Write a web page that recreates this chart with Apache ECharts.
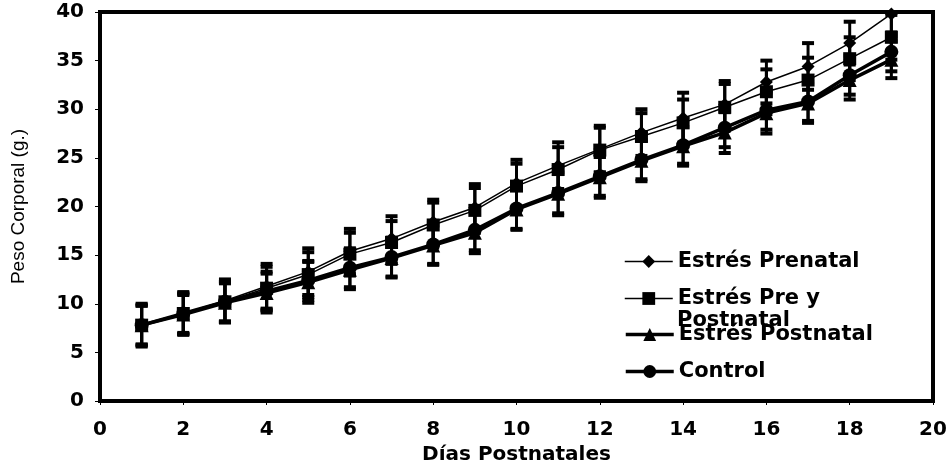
<!DOCTYPE html>
<html>
<head>
<meta charset="utf-8">
<script src="https://cdn.jsdelivr.net/npm/echarts@6/dist/echarts.min.js"></script>
<style>
html, body { margin: 0; padding: 0; background: #fff; }
#main { width: 951px; height: 464px; }
</style>
</head>
<body>
<div id="main"></div>
<script>
// dias postnatales
var dias = [1, 2, 3, 4, 5, 6, 7, 8, 9, 10, 11, 12, 13, 14, 15, 16, 17, 18, 19];

// pesos medios (g.)
var prenatal = [7.8, 9.0, 10.3, 11.8, 13.3, 15.4, 16.7, 18.4, 19.9, 22.4, 24.2, 25.9, 27.6, 29.1, 30.5, 32.8, 34.4, 36.8, 39.8];
var prePost  = [7.8, 9.0, 10.2, 11.6, 13.0, 15.1, 16.3, 18.1, 19.6, 22.1, 23.8, 25.8, 27.2, 28.6, 30.2, 31.8, 33.0, 35.2, 37.4];
var postnatal = [7.8, 8.9, 10.1, 11.1, 12.2, 13.5, 14.7, 16.0, 17.3, 19.7, 21.3, 23.0, 24.7, 26.2, 27.6, 29.6, 30.6, 33.0, 35.1];
var control  = [7.8, 9.0, 10.2, 11.3, 12.4, 13.7, 14.8, 16.1, 17.6, 19.8, 21.4, 23.1, 24.8, 26.3, 28.1, 29.9, 30.8, 33.5, 35.9];

// desviaciones
var sdPrenatal = [2.2, 2.2, 2.2, 2.3, 2.4, 2.3, 2.3, 2.3, 2.4, 2.4, 2.4, 2.4, 2.4, 2.6, 2.4, 2.2, 2.4, 2.2, 2.3];
var sdPrePost  = [2.1, 2.1, 2.1, 2.2, 2.3, 2.2, 2.2, 2.3, 2.3, 2.3, 2.3, 2.3, 2.4, 2.4, 2.4, 2.3, 2.3, 2.2, 2.3];
var sdPostnatal = [2.0, 2.0, 2.0, 2.0, 2.1, 2.0, 2.0, 2.0, 2.1, 2.1, 2.2, 2.1, 2.1, 2.0, 2.1, 2.1, 2.0, 2.0, 1.9];
var sdControl  = [2.0, 2.0, 2.0, 2.0, 2.0, 2.0, 2.0, 2.0, 2.1, 2.1, 2.1, 2.0, 2.0, 1.9, 2.0, 2.0, 2.0, 2.0, 2.0];

var yTicks = [0, 5, 10, 15, 20, 25, 30, 35, 40];

var nombres = ['Estrés Prenatal', 'Estrés Pre y Postnatal', 'Estrés Postnatal', 'Control'];

var chart = echarts.init(document.getElementById('main'));

function puntos(vals) {
    return dias.map(function (d, i) { return [d, vals[i]]; });
}
function barras(vals, sd) {
    return dias.map(function (d, i) { return [d, vals[i] - sd[i], vals[i] + sd[i]]; });
}

// barras de error con tapas
function dibujaError(params, api) {
    var x = api.value(0);
    var lo = api.coord([x, api.value(1)]);
    var hi = api.coord([x, api.value(2)]);
    var hw = 6;
    return {
        type: 'group',
        children: [
            { type: 'line', shape: { x1: lo[0], y1: lo[1], x2: hi[0], y2: hi[1] }, style: { stroke: '#000', lineWidth: 3 } },
            { type: 'line', shape: { x1: lo[0] - hw, y1: lo[1], x2: lo[0] + hw, y2: lo[1] }, style: { stroke: '#000', lineWidth: 4 } },
            { type: 'line', shape: { x1: hi[0] - hw, y1: hi[1], x2: hi[0] + hw, y2: hi[1] }, style: { stroke: '#000', lineWidth: 4 } }
        ]
    };
}

function serieError(nombre, vals, sd) {
    return {
        name: nombre,
        type: 'custom',
        renderItem: dibujaError,
        encode: { x: 0, y: [1, 2] },
        data: barras(vals, sd),
        clip: true,
        z: 1,
        silent: true
    };
}

function serieLinea(nombre, vals, simbolo, tam, ancho) {
    return {
        name: nombre,
        type: 'line',
        data: puntos(vals),
        symbol: simbolo,
        symbolSize: tam,
        showSymbol: true,
        itemStyle: { color: '#000' },
        lineStyle: { color: '#000', width: ancho },
        z: 3,
        animation: false
    };
}

var fuenteLeyenda = { fontFamily: 'DejaVu Sans', fontWeight: 'bold', fontSize: 21, color: '#000' };

function leyenda(nombre, top, texto, grosor) {
    return {
        data: [nombre],
        left: 624,
        top: top,
        padding: 0,
        itemWidth: 48,
        itemHeight: 16,
        selectedMode: false,
        lineStyle: { width: grosor },
        textStyle: fuenteLeyenda,
        formatter: function () { return texto; }
    };
}

var option = {
    backgroundColor: '#fff',
    animation: false,
    grid: {
        left: 100, right: 18, top: 12, bottom: 63,
        containLabel: false,
        outerBoundsMode: 'none',
        show: true, borderColor: '#000', borderWidth: 4
    },
    legend: [
        leyenda(nombres[0], 251, 'Estrés Prenatal', 1.5),
        leyenda(nombres[1], 288, 'Estrés Pre y', 1.5),
        leyenda(nombres[2], 324, 'Estrés Postnatal', 3.5),
        leyenda(nombres[3], 361, 'Control', 3.5)
    ],
    graphic: [{
        type: 'text',
        left: 677,
        top: 310,
        style: { text: 'Postnatal', font: 'bold 21px "DejaVu Sans"', fill: '#000' },
        z: 10
    }],
    xAxis: {
        type: 'value',
        min: 0, max: 20, interval: 2,
        name: 'Días Postnatales',
        nameLocation: 'middle',
        nameGap: 40,
        nameTextStyle: { fontFamily: 'DejaVu Sans', fontWeight: 'bold', fontSize: 20, color: '#000' },
        axisLine: { lineStyle: { color: '#000', width: 4 } },
        axisTick: { show: true, length: 4, lineStyle: { color: '#000', width: 1 } },
        axisLabel: { margin: 19, fontFamily: 'DejaVu Sans', fontWeight: 'bold', fontSize: 20, color: '#000' },
        splitLine: { show: false }
    },
    yAxis: {
        type: 'value',
        min: yTicks[0], max: yTicks[yTicks.length - 1], interval: 5,
        name: 'Peso Corporal (g.)',
        nameLocation: 'middle',
        nameRotate: 90,
        nameGap: 72,
        nameTextStyle: { fontFamily: 'Liberation Sans', fontSize: 19, color: '#000' },
        axisLine: { lineStyle: { color: '#000', width: 4 } },
        axisTick: { show: true, length: 5, lineStyle: { color: '#000', width: 1 } },
        axisLabel: { margin: 16, fontFamily: 'DejaVu Sans', fontWeight: 'bold', fontSize: 20, color: '#000' },
        splitLine: { show: false }
    },
    series: [
        serieError('e1', prenatal, sdPrenatal),
        serieError('e2', prePost, sdPrePost),
        serieError('e3', postnatal, sdPostnatal),
        serieError('e4', control, sdControl),
        serieLinea(nombres[0], prenatal, 'diamond', 13, 1.5),
        serieLinea(nombres[1], prePost, 'rect', 13, 1.5),
        serieLinea(nombres[2], postnatal, 'triangle', 14, 3.5),
        serieLinea(nombres[3], control, 'circle', 14, 3.5)
    ]
};

chart.setOption(option);
</script>
</body>
</html>
